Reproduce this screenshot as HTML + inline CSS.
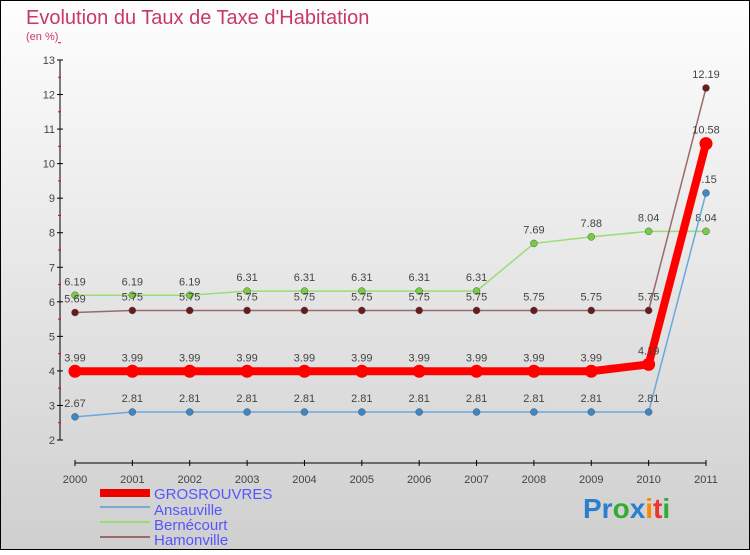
<!DOCTYPE html>
<html><head><meta charset="utf-8"><style>
body{margin:0;width:750px;height:550px;overflow:hidden;font-family:"Liberation Sans",sans-serif}
</style></head><body>
<svg id="c" width="750" height="550" xmlns="http://www.w3.org/2000/svg">
<defs><linearGradient id="bg" x1="0" y1="0" x2="0" y2="1"><stop offset="0" stop-color="#fefefe"/><stop offset="1" stop-color="#cfcfcf"/></linearGradient></defs>
<rect x="0.5" y="0.5" width="749" height="549" fill="url(#bg)" stroke="#000"/>
<text x="26" y="24" font-size="20" fill="#c8386a">Evolution du Taux de Taxe d'Habitation</text>
<text x="26" y="40" font-size="11" fill="#c8386a">(en %)</text>
<g id="axes"></g><g id="series"></g>
<g>
<rect x="100" y="489" width="50" height="8" fill="#e00"/>
<text x="154" y="499" font-size="15" fill="#55f">GROSROUVRES</text>
<line x1="100" y1="507" x2="150" y2="507" stroke="#7aa8d0" stroke-width="2"/>
<text x="154" y="515" font-size="15" fill="#55f">Ansauville</text>
<line x1="100" y1="522" x2="150" y2="522" stroke="#99dd77" stroke-width="2"/>
<text x="154" y="530" font-size="15" fill="#55f">Bernécourt</text>
<line x1="100" y1="537" x2="150" y2="537" stroke="#9a6a6a" stroke-width="2"/>
<text x="154" y="545" font-size="15" fill="#55f">Hamonville</text>
</g>
<text x="583" y="518" font-size="28" font-weight="bold"><tspan fill="#2a7fd0">Pr</tspan><tspan fill="#3a3">o</tspan><tspan fill="#2a7fd0">x</tspan><tspan fill="#f80">i</tspan><tspan fill="#e33">t</tspan><tspan fill="#3a3">i</tspan></text>
</svg>
<script>
const years=[2000,2001,2002,2003,2004,2005,2006,2007,2008,2009,2010,2011];
const yTicks=[2,3,4,5,6,7,8,9,10,11,12,13];
const grosrouvres=[3.99,3.99,3.99,3.99,3.99,3.99,3.99,3.99,3.99,3.99,4.19,10.58];
const ansauville=[2.67,2.81,2.81,2.81,2.81,2.81,2.81,2.81,2.81,2.81,2.81,9.15];
const bernecourt=[6.19,6.19,6.19,6.31,6.31,6.31,6.31,6.31,7.69,7.88,8.04,8.04];
const hamonville=[5.69,5.75,5.75,5.75,5.75,5.75,5.75,5.75,5.75,5.75,5.75,12.19];
const NS="http://www.w3.org/2000/svg";
const x=i=>75+i*(706-75)/(years.length-1);
const y=v=>440-(v-2)*(380/11);
function mk(p,t,a){const e=document.createElementNS(NS,t);for(const k in a)e.setAttribute(k,a[k]);p.appendChild(e);return e;}
const ax=document.getElementById('axes');
let l=mk(ax,'line',{x1:60,y1:60,x2:60,y2:440,stroke:'#000'});


yTicks.forEach(v=>{mk(ax,'line',{x1:57,y1:y(v),x2:63,y2:y(v),stroke:'#000'});
mk(ax,'line',{x1:58,y1:y(v+0.5),x2:61,y2:y(v+0.5),stroke:'#e00'});
const t=mk(ax,'text',{x:55,y:y(v)+4,'font-size':11,'text-anchor':'end',fill:'#444'});t.textContent=v;

});
l=mk(ax,'line',{x1:75,y1:463,x2:706,y2:463,stroke:'#000'});


years.forEach((yr,i)=>{mk(ax,'line',{x1:x(i),y1:460,x2:x(i),y2:466,stroke:'#000'});
const t=mk(ax,'text',{x:x(i),y:483,'font-size':11,'text-anchor':'middle',fill:'#444'});t.textContent=yr;

});
const sg=document.getElementById('series');
function draw(name,d,lc,pc,w,r){const g=mk(sg,'g',{});


mk(g,'polyline',{points:d.map((v,i)=>x(i)+','+y(v)).join(' '),fill:'none',stroke:lc,'stroke-width':w});
d.forEach((v,i)=>{const c=mk(g,'circle',{cx:x(i),cy:y(v),r:r,fill:pc,stroke:'#555','stroke-width':w>3?0:0.5});


const t=mk(g,'text',{x:x(i),y:y(v)-10,'font-size':11,'text-anchor':'middle',fill:'#444'});t.textContent=v;

});}
draw('bernecourt',bernecourt,'#99dd77','#77cc44',1.5,3.5);
draw('hamonville',hamonville,'#9a6a6a','#6a1a1a',1.5,3.5);
draw('ansauville',ansauville,'#6aa8dd','#3a88c8',1.5,3.5);
draw('grosrouvres',grosrouvres,'#f00','#f00',8,6.5);
</script>
</body></html>
